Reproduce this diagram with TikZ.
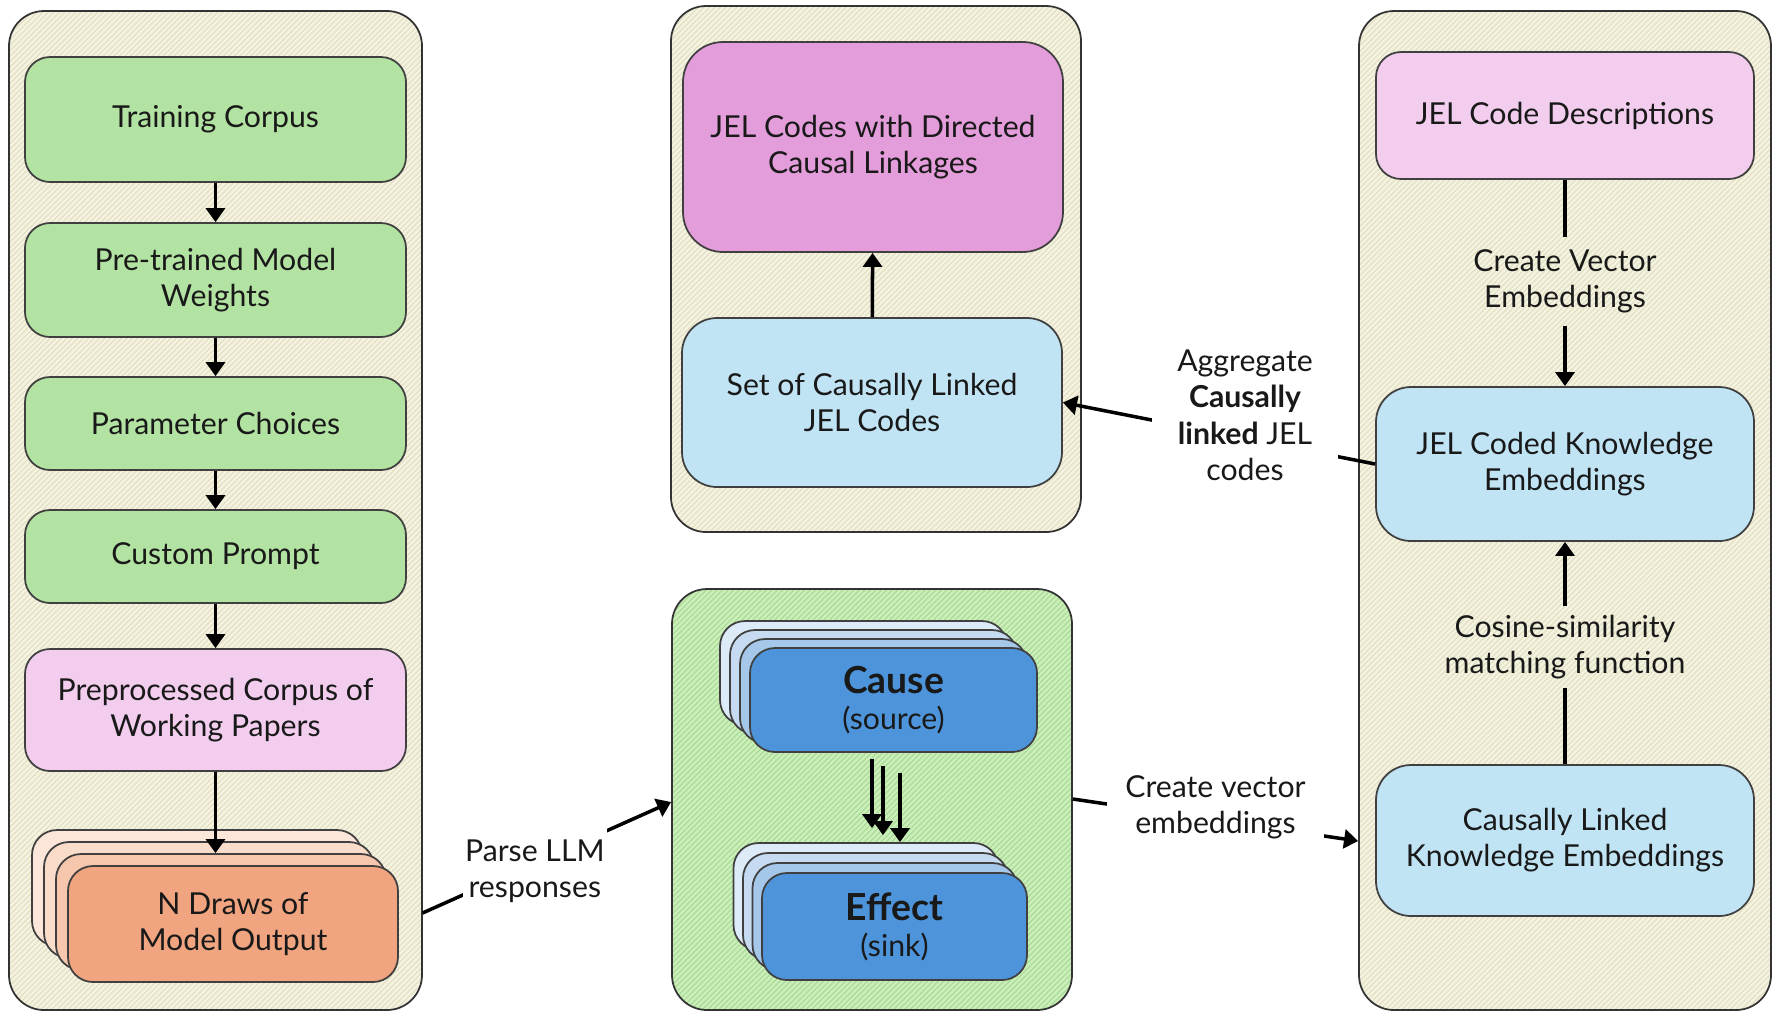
\documentclass[tikz,border=0pt]{standalone}
\usepackage{fontspec}
\setmainfont{Lato}
\usepackage{xcolor}
\usepackage{tikz}
\usetikzlibrary{arrows.meta,positioning,calc,patterns.meta}

\definecolor{boxgreen}{HTML}{B3E3A2}
\definecolor{boxpink}{HTML}{F2CDEE}
\definecolor{boxmagenta}{HTML}{E49DDB}
\definecolor{boxblue}{HTML}{C1E4F5}
\definecolor{panelbeige}{HTML}{F4F2E0}
\definecolor{hatchbeige}{HTML}{E2DEC0}
\definecolor{panelgreen}{HTML}{CBEEBB}
\definecolor{hatchgreen}{HTML}{A5DA90}
\definecolor{draw0}{HTML}{F0A47F}
\definecolor{draw1}{HTML}{F6C6AD}
\definecolor{draw2}{HTML}{FADCCB}
\definecolor{draw3}{HTML}{FCE5D9}
\definecolor{layer0}{HTML}{4D94DB}
\definecolor{layer1}{HTML}{A5C7EA}
\definecolor{layer2}{HTML}{C6DBF1}
\definecolor{layer3}{HTML}{DDEAF7}

\begin{document}
\begin{tikzpicture}[
    font=\fontsize{8.6}{10.3}\selectfont,
    panel/.style 2 args={draw=black!80, line width=0.5pt, rounded corners=0.35cm,
        preaction={fill=#1}, pattern={Lines[angle=45,distance=1.1pt,line width=0.3pt]}, pattern color=#2},
    box/.style={draw=black!75, line width=0.5pt, rounded corners=0.25cm, align=center, text=black!90},
    lbl/.style={align=center, text=black!90, inner sep=0.12cm},
    arr/.style={-{Triangle[width=5.4pt,length=4pt]}, line width=1pt},
]
    \useasboundingbox (0,0) rectangle (17.83,-10.12);

    % Left column - from corpus to model output
    \node[panel={panelbeige}{hatchbeige}, minimum width=4.13cm, minimum height=9.99cm] (lpanel) at (2.155,-5.105) {};
    \node[box, fill=boxgreen, minimum width=3.81cm, minimum height=1.25cm] (train) at (2.155,-1.195) {Training Corpus};
    \node[box, fill=boxgreen, minimum width=3.81cm, minimum height=1.14cm] (pretr) at (2.155,-2.80) {Pre-trained Model\\Weights};
    \node[box, fill=boxgreen, minimum width=3.81cm, minimum height=0.93cm] (param) at (2.155,-4.235) {Parameter Choices};
    \node[box, fill=boxgreen, minimum width=3.81cm, minimum height=0.93cm] (prompt) at (2.155,-5.565) {Custom Prompt};
    \node[box, fill=boxpink, minimum width=3.81cm, minimum height=1.22cm] (preproc) at (2.155,-7.10) {Preprocessed Corpus of\\Working Papers};

    % Stack of model draws
    \foreach \i/\c in {3/draw3,2/draw2,1/draw1} {
        \node[box, fill=\c, minimum width=3.30cm, minimum height=1.16cm] (ndraw\i) at ({2.33-0.12*\i},{-9.24+0.12*\i}) {};
    }
    \node[box, fill=draw0, minimum width=3.30cm, minimum height=1.16cm] (ndraw) at (2.33,-9.24) {N Draws of\\Model Output};

    \draw[arr] (train) -- (pretr);
    \draw[arr] (pretr) -- (param);
    \draw[arr] (param) -- (prompt);
    \draw[arr] (prompt) -- (preproc);
    \draw[arr] (preproc.south) -- (preproc.south |- ndraw1.north);

    % Middle top - linked JEL codes
    \node[panel={panelbeige}{hatchbeige}, minimum width=4.10cm, minimum height=5.26cm] (mpanel) at (8.76,-2.69) {};
    \node[box, fill=boxmagenta, rounded corners=0.4cm, minimum width=3.80cm, minimum height=2.10cm] (linkage) at (8.73,-1.47) {JEL Codes with Directed\\Causal Linkages};
    \node[box, fill=boxblue, rounded corners=0.35cm, minimum width=3.80cm, minimum height=1.69cm] (jelset) at (8.72,-4.025) {Set of Causally Linked\\JEL Codes};
    \draw[arr] (jelset) -- (linkage);

    % Middle bottom - cause and effect pairs
    \node[panel={panelgreen}{hatchgreen}, minimum width=4.00cm, minimum height=4.21cm] (gpanel) at (8.72,-7.995) {};
    \foreach \i/\c in {3/layer3,2/layer2,1/layer1} {
        \node[box, fill=\c, minimum width=2.87cm, minimum height=1.04cm] (cause\i) at ({8.935-0.10*\i},{-7.00+0.09*\i}) {};
    }
    \node[box, fill=layer0, minimum width=2.87cm, minimum height=1.04cm] (cause) at (8.935,-7.00) {{\fontsize{10.6}{12.4}\selectfont\bfseries Cause}\\(source)};
    \foreach \i/\c in {3/layer3,2/layer2,1/layer1} {
        \node[box, fill=\c, minimum width=2.65cm, minimum height=1.07cm] (effect\i) at ({8.945-0.095*\i},{-9.265+0.10*\i}) {};
    }
    \node[box, fill=layer0, minimum width=2.65cm, minimum height=1.07cm] (effect) at (8.945,-9.265) {{\fontsize{10.6}{12.4}\selectfont\bfseries Effect}\\(sink)};
    \foreach \dx/\dy in {-0.215/0, -0.105/0.07, 0.065/0.14} {
        \draw[arr] ([shift={(\dx,-0.06-\dy)}]cause.south) -- ([shift={(\dx,0.14-\dy)}]effect3.north -| cause.south);
    }

    % Right column - embeddings
    \node[panel={panelbeige}{hatchbeige}, minimum width=4.12cm, minimum height=9.99cm] (rpanel) at (15.65,-5.105) {};
    \node[box, fill=boxpink, minimum width=3.78cm, minimum height=1.27cm] (jeldesc) at (15.65,-1.155) {JEL Code Descriptions};
    \node[box, fill=boxblue, rounded corners=0.35cm, minimum width=3.78cm, minimum height=1.54cm] (jelemb) at (15.65,-4.64) {JEL Coded Knowledge\\Embeddings};
    \node[box, fill=boxblue, rounded corners=0.35cm, minimum width=3.78cm, minimum height=1.51cm] (causemb) at (15.65,-8.405) {Causally Linked\\Knowledge Embeddings};
    \node[lbl] (vecl) at (15.65,-2.81) {Create Vector\\Embeddings};
    \node[lbl, inner sep=0.08cm] (cosl) at (15.65,-6.47) {Cosine-similarity\\matching function};
    \draw[line width=1pt] (jeldesc) -- (vecl);
    \draw[arr] (vecl) -- (jelemb);
    \draw[line width=1pt] (causemb) -- (cosl);
    \draw[arr] (cosl) -- (jelemb);

    % Links between the panels
    \draw[arr] (lpanel.east |- 0,-9.13) -- node[lbl, fill=white, xshift=-0.12cm, yshift=-0.14cm, inner xsep=0.02cm] {Parse LLM\\responses} (gpanel.west |- 0,-8.02);
    \draw[arr] (gpanel.east |- 0,-7.99) -- node[lbl, fill=white, yshift=0.13cm, inner xsep=0.18cm] {Create vector\\embeddings} (rpanel.west |- 0,-8.41);
    \draw[arr] (jelemb.west) -- node[lbl, fill=white, xshift=0.26cm, yshift=0.18cm, inner xsep=0.25cm] {Aggregate\\\textbf{Causally}\\\textbf{linked} JEL\\codes} (jelset.east);
\end{tikzpicture}
\end{document}
